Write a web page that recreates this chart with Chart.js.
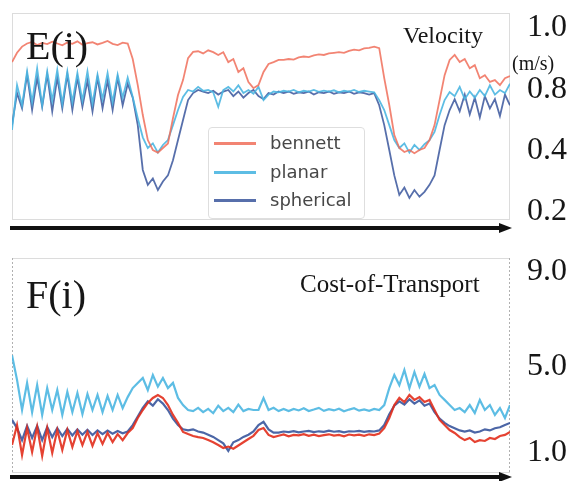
<!DOCTYPE html>
<html>
<head>
<meta charset="utf-8">
<script src="https://cdn.jsdelivr.net/npm/chart.js@4/dist/chart.umd.min.js"></script>
<style>
  html, body { margin: 0; padding: 0; background: #fff; }
  #page { position: relative; width: 572px; height: 481px; overflow: hidden; }
  .panel { position: absolute; left: 0; }
  .note { position: absolute; font-family: "Liberation Serif", "Times New Roman", serif; color: #161616; line-height: 1; white-space: nowrap; }
  #legendBox { position: absolute; left: 208px; top: 127px; width: 155px; height: 90px; border: 1px solid #dedede; border-radius: 4px; background: rgba(255,255,255,0.85); }
  .legendRow { position: absolute; left: 0; height: 22px; line-height: 22px; font-family: "DejaVu Sans", sans-serif; font-size: 18px; color: #474747; }
  .legendRow span.swatch { position: absolute; left: 5px; top: 10px; width: 42px; height: 3px; }
  .legendRow span.label { position: absolute; left: 61px; top: 0; }
</style>
</head>
<body>
<div id="page">
  <canvas id="velocityChart" class="panel" style="top:0" width="572" height="240"></canvas>
  <canvas id="cotChart" class="panel" style="top:240px" width="572" height="241"></canvas>
  <div class="note" style="left:26px; top:26px; font-size:40px;">E(i)</div>
  <div class="note" style="left:403px; top:23px; font-size:24px;">Velocity</div>
  <div class="note" style="left:512px; top:53px; font-size:20px; line-height:20px;">(m/s)</div>
  <div class="note" style="left:26px; top:275px; font-size:40px;">F(i)</div>
  <div class="note" style="left:300px; top:271px; font-size:25px;">Cost-of-Transport</div>
  <div id="legendBox"></div>
</div>
<script>
// sample index along the run (x is not labelled in the figure)
const frames = Array.from({ length: 100 }, (_, i) => i);

const seriesNames = ['bennett', 'planar', 'spherical'];

// velocity (m/s)
const velBennett = [
  0.89, 0.92, 0.94,
  0.95, 0.955, 0.945, 0.952, 0.948, 0.956, 0.95, 0.944, 0.953, 0.949, 0.957, 0.946, 0.951, 0.954, 0.947, 0.952, 0.958, 0.949, 0.945, 0.953, 0.95,
  0.90, 0.816, 0.636, 0.472, 0.407, 0.395, 0.42, 0.45, 0.615, 0.767, 0.832, 0.903, 0.923,
  0.925, 0.918, 0.928, 0.922, 0.913, 0.922, 0.89, 0.90, 0.858, 0.87, 0.826, 0.806, 0.816, 0.858, 0.884, 0.89, 0.897,
  0.897, 0.90, 0.898, 0.905, 0.908, 0.906, 0.912, 0.915, 0.913, 0.918, 0.92, 0.922, 0.92, 0.926, 0.93, 0.928, 0.934, 0.936, 0.94,
  0.935, 0.838, 0.702, 0.505, 0.42, 0.397, 0.407, 0.393, 0.407, 0.42, 0.472, 0.57, 0.734, 0.848, 0.897, 0.913, 0.89, 0.90, 0.87, 0.88, 0.838, 0.848, 0.826, 0.832, 0.816, 0.838, 0.845,
];
const velPlanar = [
  0.538, 0.816, 0.70, 0.86, 0.72, 0.87, 0.70, 0.86, 0.73, 0.865, 0.71, 0.86, 0.72, 0.855, 0.73, 0.86, 0.71, 0.85, 0.74, 0.855, 0.72, 0.85, 0.75, 0.84,
  0.754, 0.616, 0.49, 0.42, 0.45, 0.395, 0.44, 0.472, 0.57, 0.669, 0.754, 0.80,
  0.79, 0.81, 0.795, 0.80, 0.785, 0.69, 0.80, 0.81, 0.79, 0.815, 0.78, 0.80, 0.775, 0.81, 0.734, 0.77, 0.79, 0.785,
  0.795, 0.79, 0.80, 0.785, 0.795, 0.79, 0.80, 0.788, 0.796, 0.79, 0.798, 0.785, 0.795, 0.79, 0.80, 0.787, 0.795, 0.79, 0.785,
  0.734, 0.669, 0.57, 0.472, 0.42, 0.45, 0.395, 0.44, 0.407, 0.445, 0.472, 0.525, 0.636, 0.734, 0.787, 0.76, 0.81, 0.74, 0.79, 0.75, 0.80, 0.76, 0.815, 0.77, 0.80, 0.78, 0.82,
];
const velSpherical = [
  0.57, 0.78, 0.68, 0.85, 0.67, 0.84, 0.69, 0.85, 0.66, 0.84, 0.68, 0.85, 0.67, 0.84, 0.69, 0.83, 0.66, 0.84, 0.68, 0.83, 0.67, 0.84, 0.70, 0.82,
  0.75, 0.57, 0.338, 0.289, 0.31, 0.272, 0.30, 0.32, 0.37, 0.472, 0.603, 0.734,
  0.78, 0.80, 0.79, 0.78, 0.795, 0.77, 0.79, 0.80, 0.76, 0.79, 0.75, 0.78, 0.80, 0.76, 0.74, 0.78, 0.77, 0.79,
  0.78, 0.79, 0.775, 0.785, 0.78, 0.79, 0.77, 0.785, 0.78, 0.79, 0.775, 0.785, 0.78, 0.79, 0.775, 0.785, 0.78, 0.77, 0.78,
  0.70, 0.57, 0.407, 0.32, 0.256, 0.28, 0.246, 0.272, 0.25, 0.266, 0.289, 0.32, 0.407, 0.57, 0.669, 0.74, 0.66, 0.77, 0.64, 0.75, 0.62, 0.76, 0.68, 0.74, 0.63, 0.77, 0.70,
];

// cost of transport
const cotBennett = [
  1.37, 2.30, 0.91, 2.16, 1.05, 2.21, 0.86, 2.16, 1.0, 2.07, 1.14, 2.07, 1.28, 2.02, 1.37, 1.98, 1.33, 1.93, 1.42, 1.93, 1.51, 1.88, 1.60, 1.93,
  2.16, 2.63, 3.0, 3.33, 3.56, 3.70, 3.56, 3.23, 2.77, 2.40, 1.98, 1.88, 1.79, 1.74, 1.7, 1.6, 1.5, 1.37, 1.23, 1.3, 1.2, 1.35, 1.5, 1.65, 1.8, 2.07, 2.16, 1.84, 1.74,
  1.8, 1.86, 1.78, 1.84, 1.82, 1.88, 1.8, 1.85, 1.79, 1.83, 1.87, 1.81, 1.84, 1.78, 1.86, 1.82, 1.85, 1.8, 1.87, 1.83, 1.9,
  2.16, 2.63, 3.23, 3.56, 3.37, 3.70, 3.47, 3.60, 3.37, 3.47, 3.0, 2.54, 2.30, 2.07, 1.93, 1.74, 1.60, 1.70, 1.51, 1.60, 1.56, 1.70, 1.65, 1.79, 1.84, 1.98,
];
const cotPlanar = [
  5.5, 4.40, 3.0, 4.26, 2.9, 4.16, 2.77, 4.02, 3.0, 3.93, 2.77, 3.84, 2.9, 3.79, 2.81, 3.74, 3.0, 3.70, 2.9, 3.65, 3.0, 3.70, 3.09, 3.60,
  4.02, 4.26, 4.49, 3.93, 4.63, 4.09, 4.49, 4.02, 4.26, 3.56, 3.23,
  3.0, 2.95, 3.1, 2.9, 3.05, 2.85, 3.2, 2.95, 3.1, 2.9, 3.25, 2.95, 3.05, 3.0, 3.0, 3.55, 3.0, 3.1, 2.95, 3.05,
  2.95, 3.05, 2.98, 3.08, 2.95, 3.02, 3.1, 2.96, 3.04, 2.98, 3.06, 2.94, 3.02, 3.08, 2.97, 3.03, 2.96, 3.05, 3.0,
  3.23, 4.02, 4.63, 4.16, 4.86, 4.02, 4.77, 4.09, 4.68, 4.02, 4.16, 3.70, 3.47, 3.23, 3.0, 3.09, 2.9, 3.23, 2.86, 3.47, 3.0, 3.23, 2.77, 3.09, 2.63, 3.23,
];
const cotSpherical = [
  2.54, 2.16, 1.60, 2.26, 1.70, 2.26, 1.60, 2.21, 1.74, 2.16, 1.79, 2.12, 1.82, 2.1, 1.85, 2.08, 1.84, 2.05, 1.88, 2.04, 1.9, 2.02, 1.92, 2.0,
  2.30, 2.7, 3.1, 3.4, 3.2, 3.5, 3.3, 3.0, 2.6, 2.3, 2.1, 2.05, 2.1, 2.0, 1.95, 1.85, 1.75, 1.6, 1.45, 1.1, 1.5, 1.6, 1.75, 1.85, 2.0, 2.3, 2.45, 2.1, 1.95,
  1.95, 2.0, 1.97, 2.02, 1.96, 2.0, 2.03, 1.97, 2.01, 1.98, 2.04, 1.99, 2.02, 1.96, 2.01, 2.0, 2.03, 1.98, 2.02, 2.0, 2.05,
  2.3, 2.8, 3.2, 3.4, 3.25, 3.5, 3.3, 3.45, 3.2, 3.3, 2.9, 2.6, 2.4, 2.25, 2.15, 2.05, 2.0, 2.05, 1.95, 2.0, 2.1, 2.05, 2.15, 2.2, 2.3, 2.4,
];

// tick labels on the right-hand side
const velTicks = [0.2, 0.4, 0.8, 1.0];
const cotTicks = [1.0, 5.0, 9.0];

/**
 * The figure's value axes are not evenly spaced (0.2 / 0.4 / 0.8 / 1.0 sit at equal gaps),
 * so the scale maps values to the axis piecewise: [value, fraction of axis height from the bottom].
 */
const SCALE_STOPS = {
  velocityChart: [[0.174, 0], [0.2, 0.039], [0.4, 0.333], [0.8, 0.628], [1.0, 0.9275], [1.048, 1]],
  cotChart: [[0.07, 0], [1.0, 0.093], [5.0, 0.493], [9.0, 0.935], [9.59, 1]],
};

const lerpStops = (stops, v, from, to) => {
  if (v <= stops[0][from]) return stops[0][to];
  for (let i = 1; i < stops.length; i += 1) {
    const a = stops[i - 1];
    const b = stops[i];
    if (v <= b[from]) return a[to] + ((v - a[from]) / (b[from] - a[from])) * (b[to] - a[to]);
  }
  return stops[stops.length - 1][to];
};

class SegmentScale extends Chart.LinearScale {
  getPixelForValue(value) {
    if (value === null || value === undefined) return NaN;
    return this.getPixelForDecimal(lerpStops(SCALE_STOPS[this.chart.canvas.id], value, 0, 1));
  }

  getValueForPixel(pixel) {
    return lerpStops(SCALE_STOPS[this.chart.canvas.id], this.getDecimalForPixel(pixel), 1, 0);
  }
}
SegmentScale.id = 'segment';
SegmentScale.defaults = {};
Chart.register(SegmentScale);

// light frame round the plot and the thick black arrow underneath it
const framePlugin = {
  id: 'frame',
  beforeDatasetsDraw(chart, args, opts) {
    const { ctx, chartArea: a } = chart;
    ctx.save();
    ctx.strokeStyle = '#dcdcdc';
    ctx.lineWidth = 1;
    ctx.beginPath();
    ctx.moveTo(a.left, a.top + 0.5);
    ctx.lineTo(a.right, a.top + 0.5);
    ctx.moveTo(a.left, a.bottom - 0.5);
    ctx.lineTo(a.right, a.bottom - 0.5);
    ctx.stroke();
    if (opts.dashedSides) ctx.setLineDash([2, 2]);
    ctx.strokeStyle = opts.dashedSides ? '#b0b0b0' : '#dcdcdc';
    ctx.beginPath();
    ctx.moveTo(a.left + 0.5, a.top);
    ctx.lineTo(a.left + 0.5, a.bottom);
    ctx.moveTo(a.right - 0.5, a.top);
    ctx.lineTo(a.right - 0.5, a.bottom);
    ctx.stroke();
    ctx.restore();
  },
  afterDraw(chart, args, opts) {
    const { ctx, chartArea: a } = chart;
    const y = a.bottom + opts.arrowGap;
    const tip = a.right + 2;
    ctx.save();
    ctx.strokeStyle = '#111';
    ctx.fillStyle = '#111';
    ctx.lineWidth = 4;
    ctx.beginPath();
    ctx.moveTo(a.left - 2, y);
    ctx.lineTo(tip - 8, y);
    ctx.stroke();
    ctx.beginPath();
    ctx.moveTo(tip, y);
    ctx.lineTo(tip - 13, y - 5);
    ctx.lineTo(tip - 13, y + 5);
    ctx.closePath();
    ctx.fill();
    ctx.restore();
  },
};

const makeDataset = (label, data, color, width) => ({
  label,
  data,
  borderColor: color,
  backgroundColor: color,
  borderWidth: width,
  pointRadius: 0,
  tension: 0,
  fill: false,
});

const makeChart = (canvasId, datasets, ticks, padding, frame) => new Chart(document.getElementById(canvasId), {
  type: 'line',
  data: { labels: frames, datasets },
  options: {
    responsive: false,
    animation: false,
    layout: { padding },
    plugins: {
      legend: { display: false },
      tooltip: { enabled: false },
      frame,
    },
    scales: {
      x: { type: 'linear', min: 0, max: 99, display: false },
      y: {
        type: 'segment',
        position: 'right',
        min: SCALE_STOPS[canvasId][0][0],
        max: SCALE_STOPS[canvasId][SCALE_STOPS[canvasId].length - 1][0],
        grid: { display: false },
        border: { display: false },
        afterBuildTicks: (axis) => {
          axis.ticks = ticks.map((value) => ({ value }));
        },
        afterFit: (axis) => {
          axis.width = 62;
          axis.paddingTop = 0;
          axis.paddingBottom = 0;
        },
        ticks: {
          autoSkip: false,
          padding: 9,
          color: '#161616',
          font: { family: '"Liberation Serif", "Times New Roman", serif', size: 32 },
          callback: (value) => Number(value).toFixed(1),
        },
      },
    },
  },
  plugins: [framePlugin],
});

const velocityChart = makeChart('velocityChart', [
  makeDataset(seriesNames[0], velBennett, 'rgba(240, 110, 90, 0.85)', 1.8),
  makeDataset(seriesNames[1], velPlanar, 'rgba(75, 182, 225, 0.9)', 1.8),
  makeDataset(seriesNames[2], velSpherical, 'rgba(45, 75, 150, 0.8)', 1.8),
], velTicks, { left: 12, top: 13, right: 0, bottom: 20 }, { arrowGap: 8, dashedSides: false });

makeChart('cotChart', [
  makeDataset(seriesNames[0], cotBennett, 'rgba(226, 45, 28, 0.9)', 2.2),
  makeDataset(seriesNames[1], cotPlanar, 'rgba(75, 182, 225, 0.9)', 2.2),
  makeDataset(seriesNames[2], cotSpherical, 'rgba(45, 75, 150, 0.85)', 2.2),
], cotTicks, { left: 12, top: 18, right: 0, bottom: 8 }, { arrowGap: 4, dashedSides: true });

// legend sits inside the velocity plot, so it is built as html from the chart's datasets
const legendBox = document.getElementById('legendBox');
velocityChart.data.datasets.forEach((ds, i) => {
  const row = document.createElement('div');
  row.className = 'legendRow';
  row.style.top = `${4 + i * 28.5}px`;
  row.innerHTML = `<span class="swatch" style="background:${ds.borderColor}"></span><span class="label">${ds.label}</span>`;
  legendBox.appendChild(row);
});
</script>
</body>
</html>
